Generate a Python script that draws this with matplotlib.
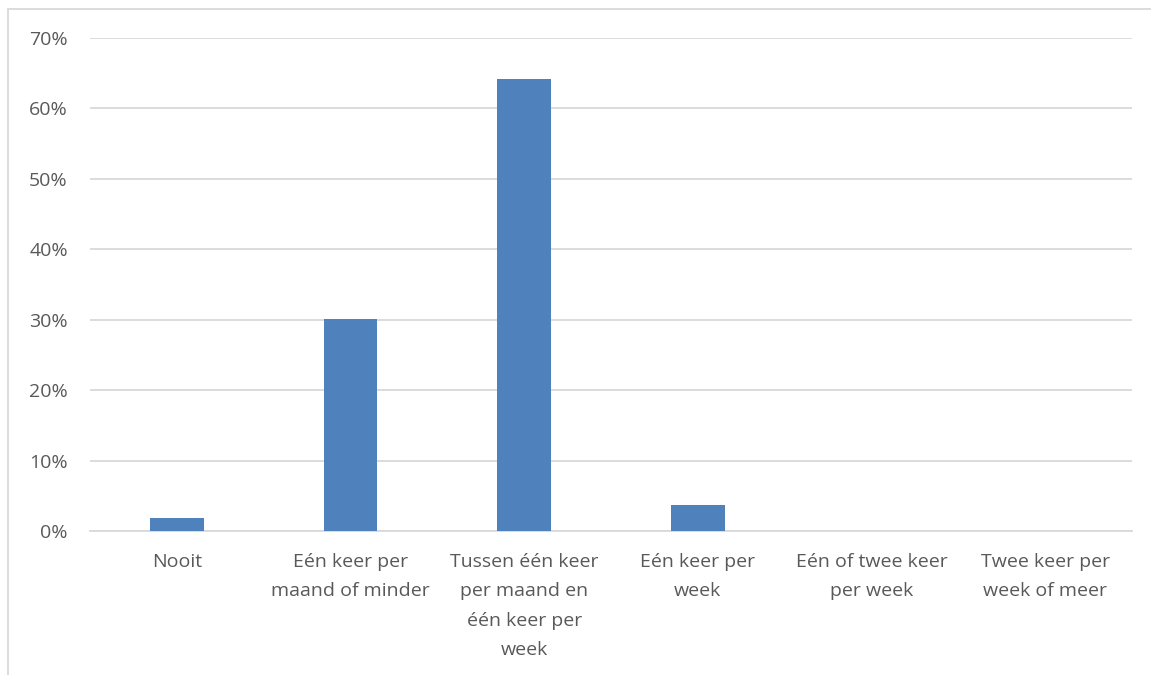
import matplotlib
matplotlib.use('Agg')
import matplotlib.pyplot as plt
from matplotlib.patches import Rectangle
from matplotlib.ticker import PercentFormatter

# frequentie van antwoorden (aandeel respondenten)
categories = ['Nooit', 'Eén keer per\nmaand of minder', 'Tussen één keer\nper maand en\néén keer per\nweek',
              'Eén keer per\nweek', 'Eén of twee keer\nper week', 'Twee keer per\nweek of meer']
values = [1.8, 30.1, 64.2, 3.7, 0.0, 0.0]
yticks = [0, 10, 20, 30, 40, 50, 60, 70]

plt.rcParams['font.family'] = ['Open Sans', 'DejaVu Sans']
text_color = '#595959'
grid_color = '#D9D9D9'

fig = plt.figure(figsize=(11.51, 6.75), dpi=100)
ax = fig.add_axes([90 / 1151, 144 / 675, 1042 / 1151, 493 / 675])

x = range(len(categories))
ax.bar(x, values, width=0.31, color='#4F81BD', zorder=3)

ax.set_xlim(-0.5, len(categories) - 0.5)
ax.set_ylim(0, 70)
ax.set_yticks(yticks)
ax.yaxis.set_major_formatter(PercentFormatter(decimals=0))
ax.set_xticks(list(x))
ax.set_xticklabels(categories, linespacing=1.8)
ax.tick_params(axis='both', length=0, labelsize=14, labelcolor=text_color)
ax.tick_params(axis='y', pad=16)
ax.tick_params(axis='x', pad=16)
ax.grid(axis='y', color=grid_color, linewidth=1.3, zorder=0)
for side in ['top', 'right', 'left']:
    ax.spines[side].set_visible(False)
ax.spines['bottom'].set_color(grid_color)
ax.spines['bottom'].set_linewidth(1.3)

# kader rond de grafiek
fig.patches.append(Rectangle((8 / 1151, -0.1), 1.2, 1.1 - 9 / 675, transform=fig.transFigure,
                             fill=False, edgecolor=grid_color, linewidth=1.3))

fig.savefig('out.png', dpi=100)
